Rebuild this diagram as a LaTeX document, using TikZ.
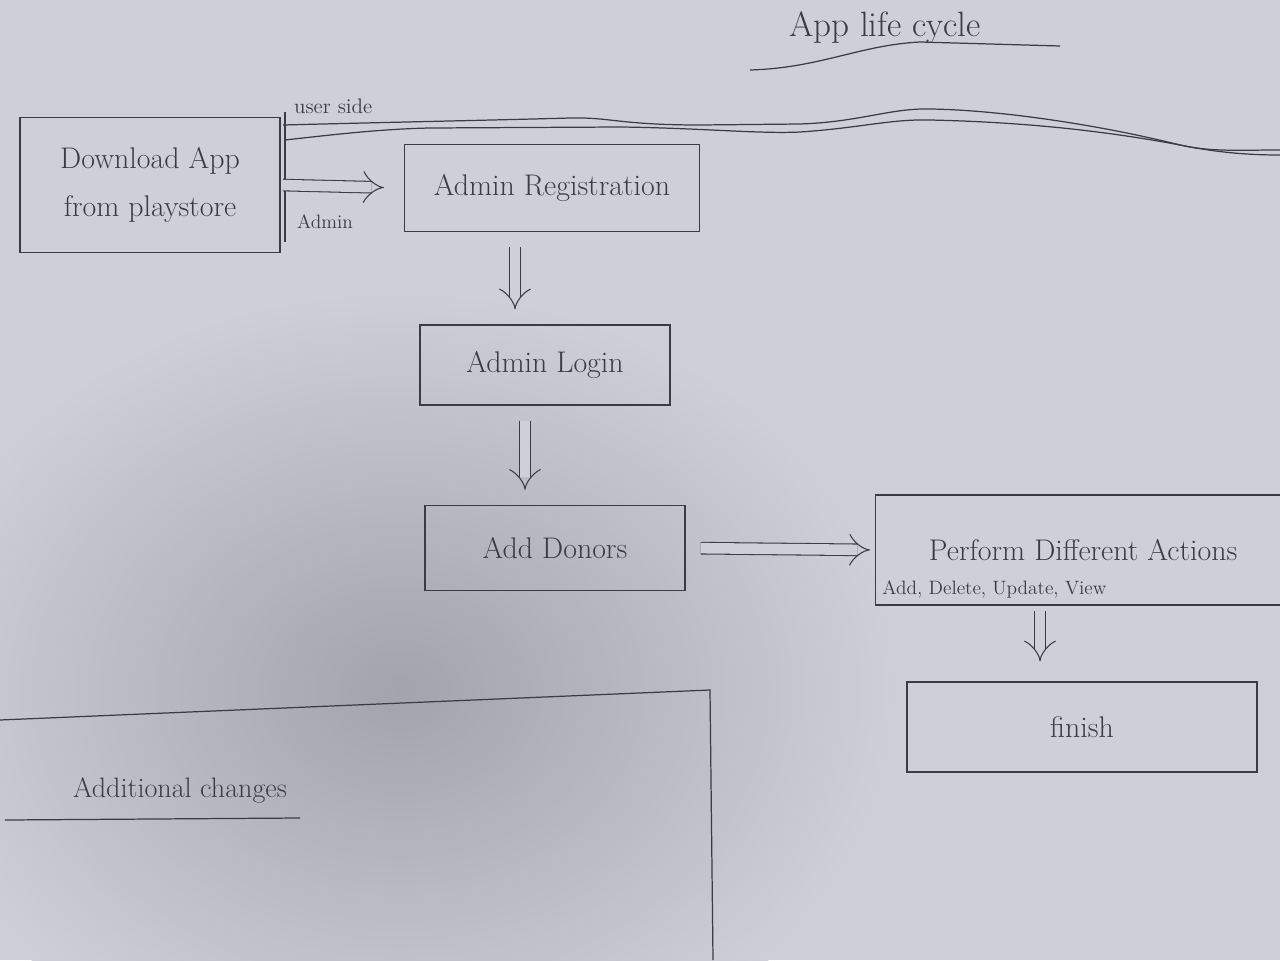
\documentclass[tikz,border=0pt]{standalone}
\usetikzlibrary{arrows.meta}
\definecolor{paper}{RGB}{205,208,216}
\definecolor{shadowc}{RGB}{162,164,172}
\definecolor{ink}{RGB}{58,60,68}
\begin{document}
\begin{tikzpicture}[x=0.02cm,y=-0.02cm,
  box/.style={draw=ink,line width=0.7pt,text=ink,font=\fontsize{17}{20}\selectfont,inner sep=4pt},
  lbl/.style={text=ink,inner sep=1pt},
  dbl/.style={draw=ink,double=paper,double distance=6pt,line width=0.6pt,-{Implies[scale=1.3]},shorten <=0.3cm,shorten >=0.3cm},
  ln/.style={draw=ink,line width=0.7pt}]
\useasboundingbox (0,0) rectangle (1280,960);
\fill[paper] (0,0) rectangle (1280,960);
\shade[inner color=shadowc, outer color=paper] (400,690) ellipse [x radius=10cm, y radius=8cm];
\clip (0,0) rectangle (1280,960);

% title
\node[lbl,font=\fontsize{20}{22}\selectfont] (title) at (885,28) {App life cycle};
\draw[ln] (750,70) .. controls (820,68) and (860,45) .. (920,42) -- (1060,46);

% user side lane
\node[lbl,font=\fontsize{12}{14}\selectfont,anchor=west] (us) at (292,106) {user side};
\draw[ln] (285,112) -- (285,242);
\draw[ln] (283,125) .. controls (400,122) and (500,120) .. (570,118)
  .. controls (610,117) and (620,125) .. (700,125) -- (800,124)
  .. controls (860,122) and (890,108) .. (930,109)
  .. controls (1000,110) and (1100,125) .. (1180,145)
  .. controls (1210,152) and (1240,150) .. (1280,150);
\draw[ln] (285,140) .. controls (330,135) and (380,129) .. (430,128)
  -- (620,127) .. controls (700,128) and (760,134) .. (800,132)
  .. controls (860,128) and (890,119) .. (930,120)
  .. controls (1020,122) and (1100,130) .. (1180,145)
  .. controls (1220,153) and (1250,155) .. (1280,155);

% boxes
\node[box,font=\fontsize{17}{27}\selectfont,align=center,minimum width=5.2cm,minimum height=2.7cm] (dl) at (150,185) {Download App\\from playstore};
\node[box,minimum width=5.9cm,minimum height=1.74cm] (reg) at (552,188) {Admin Registration};
\node[box,minimum width=5cm,minimum height=1.6cm] (login) at (545,365) {Admin Login};
\node[box,minimum width=5.2cm,minimum height=1.7cm] (donors) at (555,548) {Add Donors};
\node[box,minimum width=8.3cm,minimum height=2.2cm,anchor=west] (actions) at (875,550) {Perform Different Actions};
\node[lbl,font=\fontsize{11}{13}\selectfont,anchor=south west] (sub) at ([xshift=3pt,yshift=3pt]actions.south west) {Add, Delete, Update, View};
\node[box,minimum width=7.0cm,minimum height=1.8cm] (finish) at (1082,727) {finish};

% connectors
\draw[dbl,shorten <=0.05cm,shorten >=0.4cm] (dl.east) -- (reg.west);
\node[lbl,font=\fontsize{11}{13}\selectfont] (admin) at (325,222) {Admin};
\coordinate (a1) at (515,0);
\coordinate (a2) at (525,0);
\coordinate (ax) at (1040,0);
\draw[dbl] (reg.south -| a1) -- (login.north -| a1);
\draw[dbl] (login.south -| a2) -- (donors.north -| a2);
\draw[dbl,shorten >=0.1cm] (donors.east) -- (actions.west);
\draw[dbl,shorten <=0.1cm,shorten >=0.4cm] (actions.south -| ax) -- (finish.north -| ax);

% additional changes area
\draw[ln] (0,720) -- (710,690) -- (713,960);
\node[lbl,font=\fontsize{16}{18}\selectfont] (addl) at (180,790) {Additional changes};
\draw[ln] (5,820) -- (300,818);
\end{tikzpicture}
\end{document}
